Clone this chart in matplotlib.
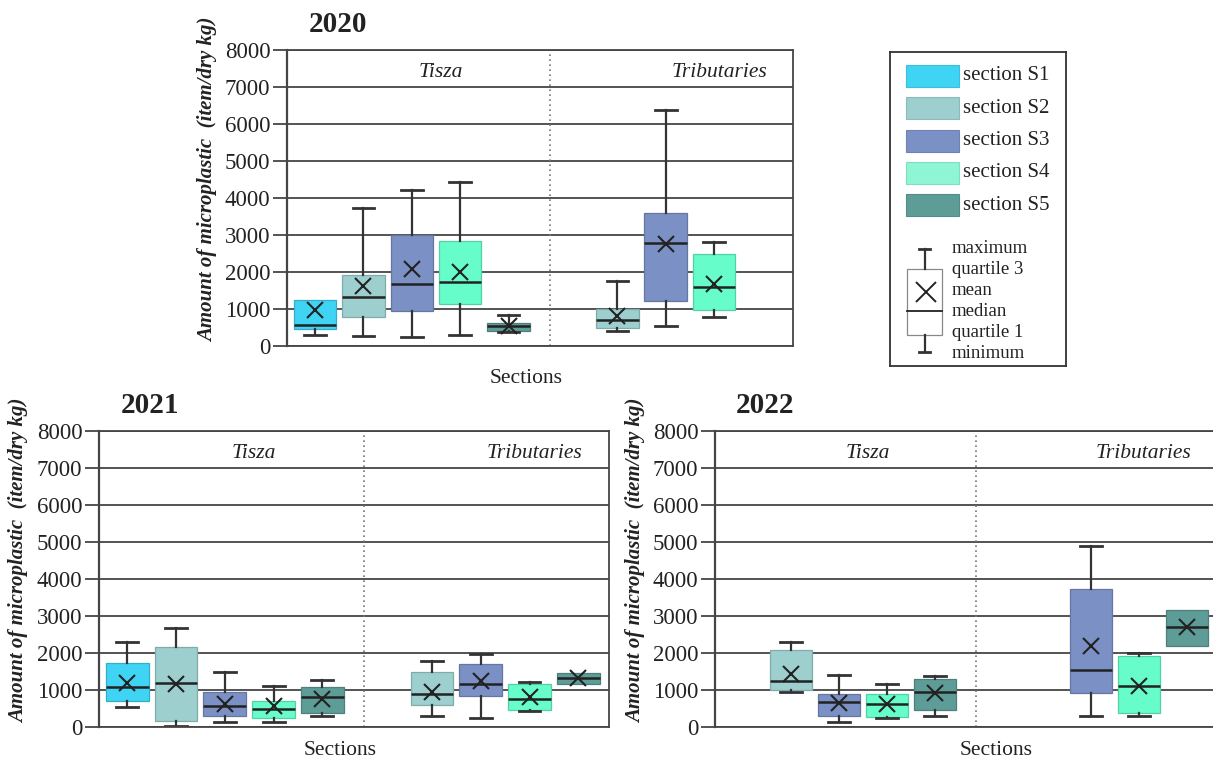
import matplotlib
matplotlib.use("Agg")
import matplotlib.pyplot as plt
from matplotlib.patches import Rectangle
from matplotlib.colors import to_rgb

plt.rcParams['font.family'] = ['Liberation Serif', 'DejaVu Serif']

# ---- data ----
SECTIONS = ['S1', 'S2', 'S3', 'S4', 'S5']
COLORS = {'S1': '#40d4f4', 'S2': '#9dcfcf', 'S3': '#7b90c4',
          'S4': '#66fdca', 'S5': '#5e9c98'}
LEGEND_COLORS = {'S1': '#40d4f4', 'S2': '#9dcfcf', 'S3': '#7b90c4',
                 'S4': '#8ef5d5', 'S5': '#5e9c98'}

# 2020
Y20_GROUP = ['Tisza'] * 5 + ['Tributaries'] * 3
Y20_SECT = ['S1', 'S2', 'S3', 'S4', 'S5', 'S2', 'S3', 'S4']
Y20_MIN = [300, 280, 240, 300, 370, 410, 540, 790]
Y20_Q1 = [470, 790, 950, 1130, 410, 490, 1210, 960]
Y20_MED = [580, 1330, 1670, 1720, 540, 700, 2780, 1600]
Y20_MEAN = [970, 1630, 2080, 2010, 530, 810, 2770, 1680]
Y20_Q3 = [1230, 1930, 3000, 2850, 630, 1000, 3600, 2490]
Y20_MAX = [1230, 3720, 4210, 4440, 850, 1770, 6370, 2810]

# 2021
Y21_GROUP = ['Tisza'] * 5 + ['Tributaries'] * 4
Y21_SECT = ['S1', 'S2', 'S3', 'S4', 'S5', 'S2', 'S3', 'S4', 'S5']
Y21_MIN = [540, 20, 130, 130, 300, 300, 250, 420, 1170]
Y21_Q1 = [710, 160, 310, 230, 380, 590, 850, 450, 1170]
Y21_MED = [1080, 1180, 580, 500, 810, 880, 1170, 760, 1330]
Y21_MEAN = [1180, 1170, 630, 560, 750, 950, 1240, 810, 1330]
Y21_Q3 = [1730, 2170, 940, 710, 1080, 1500, 1710, 1170, 1470]
Y21_MAX = [2300, 2680, 1500, 1120, 1260, 1780, 1960, 1220, 1470]

# 2022
Y22_GROUP = ['Tisza'] * 4 + ['Tributaries'] * 3
Y22_SECT = ['S2', 'S3', 'S4', 'S5', 'S3', 'S4', 'S5']
Y22_MIN = [950, 130, 230, 290, 310, 290, 2200]
Y22_Q1 = [1010, 310, 270, 470, 920, 380, 2200]
Y22_MED = [1240, 680, 610, 950, 1530, 1110, 2700]
Y22_MEAN = [1440, 660, 630, 920, 2180, 1120, 2700]
Y22_Q3 = [2070, 900, 880, 1300, 3740, 1910, 3170]
Y22_MAX = [2300, 1410, 1150, 1370, 4880, 2000, 3170]

YEARS = ['2020', '2021', '2022']
YTICKS = list(range(0, 8001, 1000))
YLABEL = 'Amount of microplastic  (item/dry kg)'

W, H = 1213, 760
GRID = '#454545'


def darker(c, f=0.82):
    r, g, b = to_rgb(c)
    return (r * f, g * f, b * f)


def draw_panel(ax, title, groups, sect, mins, q1, med, mean, q3, maxs, sec_x, sec_y):
    stats, pos = [], []
    for i in range(len(sect)):
        stats.append(dict(whislo=mins[i], q1=q1[i], med=med[i], q3=q3[i],
                          whishi=maxs[i], mean=mean[i], fliers=[]))
        pos.append(SECTIONS.index(sect[i]) + 1 + (5.25 if groups[i] == 'Tributaries' else 0))
    bp = ax.bxp(stats, positions=pos, widths=0.88, capwidths=0.45,
                showmeans=True, patch_artist=True, manage_ticks=False,
                meanprops=dict(marker='x', markersize=11, markeredgecolor='#222',
                               markeredgewidth=1.5),
                medianprops=dict(color='#222', lw=1.8),
                whiskerprops=dict(color='#333', lw=1.6),
                capprops=dict(color='#333', lw=2.0))
    for i, box in enumerate(bp['boxes']):
        box.set_facecolor(COLORS[sect[i]])
        box.set_edgecolor(darker(COLORS[sect[i]]))
        box.set_linewidth(0.9)
        # no whisker drawn where max/min coincide with the box edge
        if maxs[i] <= q3[i]:
            bp['caps'][2 * i + 1].set_visible(False)
            bp['whiskers'][2 * i + 1].set_visible(False)
        if mins[i] >= q1[i]:
            bp['caps'][2 * i].set_visible(False)
            bp['whiskers'][2 * i].set_visible(False)

    ax.set_xlim(0.42, 10.88)
    ax.set_ylim(0, 8000)
    ax.set_yticks(YTICKS)
    ax.set_xticks([])
    ax.set_axisbelow(True)
    ax.yaxis.grid(True, color=GRID, lw=1.3)
    ax.tick_params(axis='y', direction='out', length=10, width=1.3, color=GRID,
                   labelsize=16.5, pad=2, labelcolor='#222')
    for s in ax.spines.values():
        s.set_color(GRID)
        s.set_linewidth(1.3)
    ax.spines['left'].set_linewidth(1.6)
    ax.axvline(5.85, color='#777', ls=(0, (1, 2)), lw=1.2)
    ax.text(3.6, 7400, 'Tisza', fontsize=15.5, style='italic', ha='center', va='center', color='#222')
    ax.text(9.35, 7400, 'Tributaries', fontsize=15.5, style='italic', ha='center', va='center', color='#222')
    ax.set_ylabel(YLABEL, fontsize=15, fontweight='bold', style='italic', color='#222')
    ax.yaxis.set_label_coords(-0.137, 0.56)
    ax.text(0.1, 1.085, title, transform=ax.transAxes, fontsize=21, fontweight='bold',
            ha='center', va='center', color='#222')
    ax.text(sec_x, sec_y, 'Sections', transform=ax.transAxes, fontsize=15.5,
            ha='center', va='center', color='#222')


fig = plt.figure(figsize=(W / 100, H / 100), dpi=100)


def add_ax(left, right, top, bottom):
    return fig.add_axes([left / W, 1 - bottom / H, (right - left) / W, (bottom - top) / H])


ax20 = add_ax(287, 793, 50, 346)
ax21 = add_ax(99, 609, 431, 727)
ax22 = add_ax(715, 1217, 431, 727)

draw_panel(ax20, YEARS[0], Y20_GROUP, Y20_SECT, Y20_MIN, Y20_Q1, Y20_MED, Y20_MEAN,
           Y20_Q3, Y20_MAX, 0.472, -0.11)
draw_panel(ax21, YEARS[1], Y21_GROUP, Y21_SECT, Y21_MIN, Y21_Q1, Y21_MED, Y21_MEAN,
           Y21_Q3, Y21_MAX, 0.473, -0.08)
draw_panel(ax22, YEARS[2], Y22_GROUP, Y22_SECT, Y22_MIN, Y22_Q1, Y22_MED, Y22_MEAN,
           Y22_Q3, Y22_MAX, 0.56, -0.08)

# ---- legend drawn in its own pixel-unit axes ----
lx0, ly0, lw_, lh_ = 890, 52, 176, 314
lax = add_ax(lx0, lx0 + lw_, ly0, ly0 + lh_)
lax.set_xlim(0, lw_)
lax.set_ylim(lh_, 0)
lax.set_xticks([])
lax.set_yticks([])
for s in lax.spines.values():
    s.set_color('#333')
    s.set_linewidth(1.3)
for i, s in enumerate(SECTIONS):
    yc = 24 + i * 32.3
    lax.add_patch(Rectangle((16, yc - 11), 53, 22, facecolor=LEGEND_COLORS[s],
                            edgecolor=darker(LEGEND_COLORS[s], 0.9), lw=0.8))
    lax.text(73, yc, 'section ' + s, fontsize=15, va='center', ha='left', color='#222')

# box symbol
lax.add_patch(Rectangle((17, 217), 35, 66, facecolor='white', edgecolor='#888', lw=0.9))
lax.plot([34.5, 34.5], [197, 217], color='#333', lw=1.6)
lax.plot([29, 40], [197, 197], color='#333', lw=2)
lax.plot([34.5, 34.5], [283, 300], color='#333', lw=1.6)
lax.plot([29, 40], [300, 300], color='#333', lw=2)
lax.plot([17, 52], [259, 259], color='#222', lw=1.3)
lax.plot([36], [240], marker='x', markersize=15, markeredgecolor='#222', markeredgewidth=1.4)
legend_lines = ['maximum', 'quartile 3', 'mean', 'median', 'quartile 1', 'minimum']
for i, t in enumerate(legend_lines):
    lax.text(62, 196 + i * 21, t, fontsize=13.5, va='center', ha='left', color='#222')

fig.savefig('out.png', dpi=100)
